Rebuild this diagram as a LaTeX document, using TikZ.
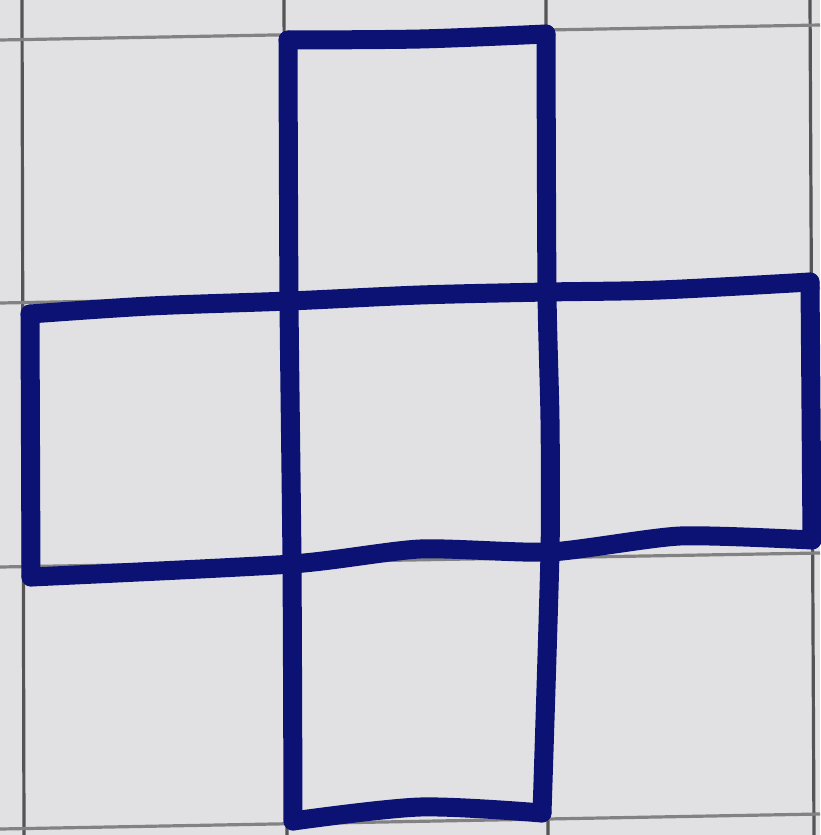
\documentclass[tikz,border=0pt]{standalone}
\definecolor{paper}{RGB}{225,225,228}
\definecolor{gridv}{RGB}{85,85,85}
\definecolor{gridh}{RGB}{130,130,130}
\definecolor{ink}{RGB}{12,18,115}
\tikzset{
  gridline/.style={line width=3.2pt},
  pen/.style={draw=ink,line width=19pt,line cap=round,line join=round}
}
\begin{document}
\begin{tikzpicture}[x=1pt,y=-1pt]
\fill[paper] (0,0) rectangle (820,835);
\useasboundingbox (0,0) rectangle (820,835);
% grid paper
\draw[gridline,gridv] (22,0) -- (24,835);
\draw[gridline,gridv] (284,0) -- (287,835);
\draw[gridline,gridv] (546,0) -- (548,835);
\draw[gridline,gridv] (810,0) -- (814,835);
\draw[gridline,gridh] (0,40) -- (820,25);
\draw[gridline,gridh] (0,303) -- (820,288);
\draw[gridline,gridh] (0,567) -- (820,553);
\draw[gridline,gridh] (0,829) -- (820,814);
% corners of the cross
\coordinate (t1) at (288,40);
\coordinate (t2) at (546,34);
\coordinate (m1) at (30,314);
\coordinate (m2) at (289,301);
\coordinate (m3) at (547,292);
\coordinate (m4) at (810,282);
\coordinate (n1) at (31,577);
\coordinate (n2) at (292,564);
\coordinate (n3) at (550,552);
\coordinate (n4) at (812,540);
\coordinate (b1) at (293,821);
\coordinate (b2) at (542,813);
% pen strokes
\draw[pen] plot[smooth,tension=0.5] coordinates {(t1) (420,39) (t2)};
\draw[pen] plot[smooth,tension=0.4] coordinates {(t1) (m2) (n2) (b1)};
\draw[pen] plot[smooth,tension=0.4] coordinates {(t2) (m3) (550,420) (n3) (b2)};
\draw[pen] plot[smooth,tension=0.5] coordinates {(m1) (150,306) (m2) (420,295) (m3) (660,290) (m4)};
\draw[pen] plot[smooth,tension=0.4] coordinates {(n1) (n2) (420,549) (n3) (680,536) (n4)};
\draw[pen] (m1) -- (n1);
\draw[pen] plot[smooth,tension=0.5] coordinates {(m4) (811,410) (n4)};
\draw[pen] plot[smooth,tension=0.5] coordinates {(b1) (420,807) (b2)};
\end{tikzpicture}
\end{document}
